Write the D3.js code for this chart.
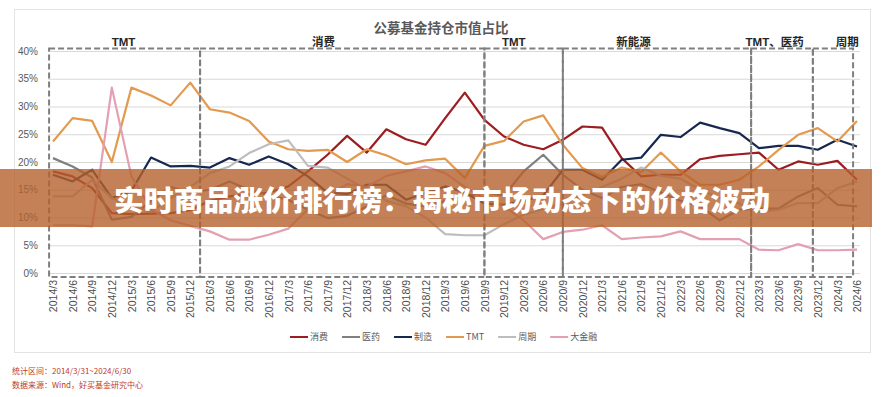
<!DOCTYPE html>
<html lang="zh">
<head>
<meta charset="UTF-8">
<title>公募基金持仓市值占比</title>
<script src="https://d3js.org/d3.v7.min.js"></script>
<style>
  body { margin: 0; background: #fff; }
  svg { display: block; font-family: "Liberation Sans", "Noto Sans CJK SC", sans-serif; }
</style>
</head>
<body>
<div id="chart"></div>
<script>
// quarter labels 2014/3 .. 2024/6
const quarters = [
  "2014/3","2014/6","2014/9","2014/12","2015/3","2015/6","2015/9","2015/12",
  "2016/3","2016/6","2016/9","2016/12","2017/3","2017/6","2017/9","2017/12",
  "2018/3","2018/6","2018/9","2018/12","2019/3","2019/6","2019/9","2019/12",
  "2020/3","2020/6","2020/9","2020/12","2021/3","2021/6","2021/9","2021/12",
  "2022/3","2022/6","2022/9","2022/12","2023/3","2023/6","2023/9","2023/12",
  "2024/3","2024/6"
];

// holding share by sector, %
const consumer = [18.3,17.4,15.3,10.8,10.6,10.7,10.8,11.3,13.0,13.8,14.2,14.5,15.6,18.3,21.3,24.7,
  21.7,25.9,24.1,23.1,27.9,32.5,27.6,24.6,23.1,22.3,24.0,26.4,26.2,20.7,17.4,17.7,
  17.7,20.5,21.1,21.4,21.7,18.6,20.1,19.5,20.2,16.8];
const medicine = [20.7,19.2,17.2,9.6,10.1,13.0,15.5,14.5,15.0,16.5,15.0,14.0,13.2,11.4,9.9,10.3,
  12.0,14.0,12.5,12.0,13.0,13.8,14.5,14.0,18.3,21.3,17.7,15.0,13.5,15.5,16.0,14.5,
  13.0,12.0,9.5,11.4,11.6,11.6,13.8,15.3,12.3,12.0];
const manufacturing = [17.7,16.5,18.6,13.5,14.8,20.8,19.2,19.3,19.0,20.7,19.5,21.0,19.6,17.4,14.5,14.2,
  15.9,15.9,13.2,14.4,15.6,14.5,12.5,12.3,13.0,14.0,18.6,18.6,16.8,20.4,20.8,24.9,
  24.5,27.1,26.1,25.2,22.5,22.9,22.9,22.2,24.0,22.8];
const tmt = [23.7,27.9,27.4,20.0,33.4,32.0,30.2,34.3,29.5,28.9,27.4,23.7,22.3,22.0,22.2,20.0,
  22.3,21.2,19.6,20.3,20.6,17.1,22.9,23.8,27.3,28.4,23.1,18.9,17.3,19.0,18.2,21.7,
  18.3,15.9,15.9,16.8,19.2,22.2,24.9,26.1,23.7,27.4];
const cyclical = [13.8,13.8,16.8,13.5,12.0,11.0,13.5,15.5,18.0,19.2,21.6,23.2,23.9,19.3,19.0,17.0,
  15.0,13.0,12.0,10.0,7.0,6.8,6.8,8.8,10.5,11.5,12.5,14.0,15.5,17.0,19.0,17.5,
  17.0,15.0,13.5,12.5,11.0,11.4,12.6,12.6,15.3,16.5];
const finance = [8.6,8.6,8.4,33.4,17.4,11.5,9.5,8.5,7.5,6.0,6.0,6.9,8.0,11.5,14.0,16.0,
  15.5,17.5,18.3,19.2,18.0,15.5,13.5,12.0,9.5,6.1,7.4,7.8,8.6,6.1,6.4,6.6,
  7.5,6.1,6.1,6.1,4.2,4.1,5.2,4.1,4.1,4.2];

const seriesNames = ["消费","医药","制造","TMT","周期","大金融"];
const seriesValues = [consumer, medicine, manufacturing, tmt, cyclical, finance];
const seriesColors = ["#9c1c20","#7f7f7f","#16284f","#e39a4e","#bdbdbd","#e3a0b3"];

const yTicks = [0,5,10,15,20,25,30,35,40];

// dominant-theme periods, in quarter index units
const periods = [
  {name:"TMT",      from:-0.2, to:7.5,  labelAt:3.6},
  {name:"消费",     from:7.5,  to:22,   labelAt:13.8},
  {name:"TMT",      from:22,   to:26,   labelAt:23.5},
  {name:"新能源",   from:26,   to:35.6, labelAt:29.6},
  {name:"TMT、医药", from:35.6, to:38.75, labelAt:36.8},
  {name:"周期",     from:38.75, to:40.8, labelAt:40.5}
];

const title = "公募基金持仓市值占比";
const bannerText = "实时商品涨价排行榜：揭秘市场动态下的价格波动";
const notes = ["统计区间：2014/3/31~2024/6/30", "数据来源：Wind，好买基金研究中心"];

const width = 886, height = 397;
const svg = d3.select("#chart").append("svg")
  .attr("width", width).attr("height", height)
  .attr("viewBox", [0, 0, width, height]);

// outer frame
svg.append("rect")
  .attr("x", 14.5).attr("y", 9.5).attr("width", 856).attr("height", 343)
  .attr("fill", "#fff").attr("stroke", "#e3e3e3");

const x = d3.scalePoint().domain(quarters).range([53, 857]);
const xi = d3.scaleLinear().domain([0, quarters.length - 1]).range([53, 857]);
const y = d3.scaleLinear().domain([0, 40]).range([273, 51]);

// title
svg.append("text")
  .attr("x", 441).attr("y", 33)
  .attr("text-anchor", "middle")
  .attr("font-family", "'Noto Sans CJK SC', sans-serif")
  .attr("font-weight", "bold").attr("font-size", 13.5)
  .attr("fill", "#595959")
  .text(title);

// grid
svg.append("g")
  .selectAll("line")
  .data(yTicks)
  .join("line")
  .attr("x1", 48).attr("x2", 860)
  .attr("y1", d => y(d) + 0.5).attr("y2", d => y(d) + 0.5)
  .attr("stroke", "#d9d9d9").attr("stroke-width", 1);

// y axis
const yAxis = svg.append("g")
  .attr("transform", "translate(41,0)")
  .call(d3.axisLeft(y).tickValues(yTicks).tickFormat(d => d + "%").tickSize(0).tickPadding(3));
yAxis.select(".domain").remove();
yAxis.selectAll("text")
  .attr("font-size", 10).attr("fill", "#595959")
  .attr("font-family", "'Liberation Sans', sans-serif");

// x axis
const xAxis = svg.append("g")
  .attr("transform", "translate(0,273)")
  .call(d3.axisBottom(x).tickSize(0));
xAxis.select(".domain").remove();
xAxis.selectAll("text")
  .attr("transform", "rotate(-90)")
  .attr("x", -7).attr("y", 0).attr("dy", "0.35em")
  .style("text-anchor", "end")
  .attr("font-size", 10.5).attr("fill", "#4d4d4d")
  .attr("font-family", "'Liberation Sans', sans-serif");

// series lines
const line = d3.line()
  .x((d, i) => x(quarters[i]))
  .y(d => y(d));

svg.append("g")
  .attr("fill", "none")
  .attr("stroke-width", 2.2)
  .attr("stroke-linejoin", "round")
  .selectAll("path")
  .data(seriesValues)
  .join("path")
  .attr("stroke", (d, i) => seriesColors[i])
  .attr("d", d => line(d));

// period boxes
const boxTop = 48.5, boxBottom = 277;
const box = svg.append("g");
box.selectAll("rect")
  .data(periods)
  .join("rect")
  .attr("x", d => xi(d.from))
  .attr("y", boxTop)
  .attr("width", d => xi(d.to) - xi(d.from))
  .attr("height", boxBottom - boxTop)
  .attr("fill", "none")
  .attr("stroke", "#7f7f7f")
  .attr("stroke-width", 2)
  .attr("stroke-dasharray", "6,3");
box.selectAll("text")
  .data(periods)
  .join("text")
  .attr("x", d => xi(d.labelAt))
  .attr("y", 46)
  .attr("text-anchor", "middle")
  .attr("font-family", "'Liberation Sans', 'Noto Sans CJK SC', sans-serif")
  .attr("font-weight", "bold").attr("font-size", 11.5)
  .attr("fill", "#262626")
  .text(d => d.name);

// legend
const legend = svg.append("g").attr("transform", "translate(290,337)");
let lx = 0;
seriesNames.forEach((name, i) => {
  const g = legend.append("g").attr("transform", `translate(${lx},0)`);
  g.append("line")
    .attr("x1", 0).attr("x2", 18).attr("y1", 0).attr("y2", 0)
    .attr("stroke", seriesColors[i]).attr("stroke-width", 2);
  const t = g.append("text")
    .attr("x", 20).attr("y", 0).attr("dy", "0.35em")
    .attr("font-family", "'Noto Sans CJK SC', sans-serif")
    .attr("font-size", 9).attr("fill", "#595959")
    .text(name);
  lx += 20 + t.node().getComputedTextLength() + 14;
});

// footnotes
svg.append("g")
  .selectAll("text")
  .data(notes)
  .join("text")
  .attr("x", 12)
  .attr("y", (d, i) => 374 + i * 14)
  .attr("font-family", "'Noto Sans CJK SC', sans-serif")
  .attr("font-size", 8)
  .attr("fill", "#c0392b")
  .text(d => d);

// overlay banner
svg.append("rect")
  .attr("x", 0).attr("y", 169).attr("width", 872).attr("height", 58)
  .attr("fill", "#b5622d").attr("opacity", 0.8);
svg.append("text")
  .attr("x", 442).attr("y", 199)
  .attr("dominant-baseline", "central")
  .attr("text-anchor", "middle")
  .attr("font-family", "'Noto Sans CJK SC', sans-serif")
  .attr("font-weight", 900).attr("font-size", 28)
  .attr("fill", "#fff")
  .attr("textLength", 656).attr("lengthAdjust", "spacingAndGlyphs")
  .text(bannerText);
</script>
</body>
</html>
